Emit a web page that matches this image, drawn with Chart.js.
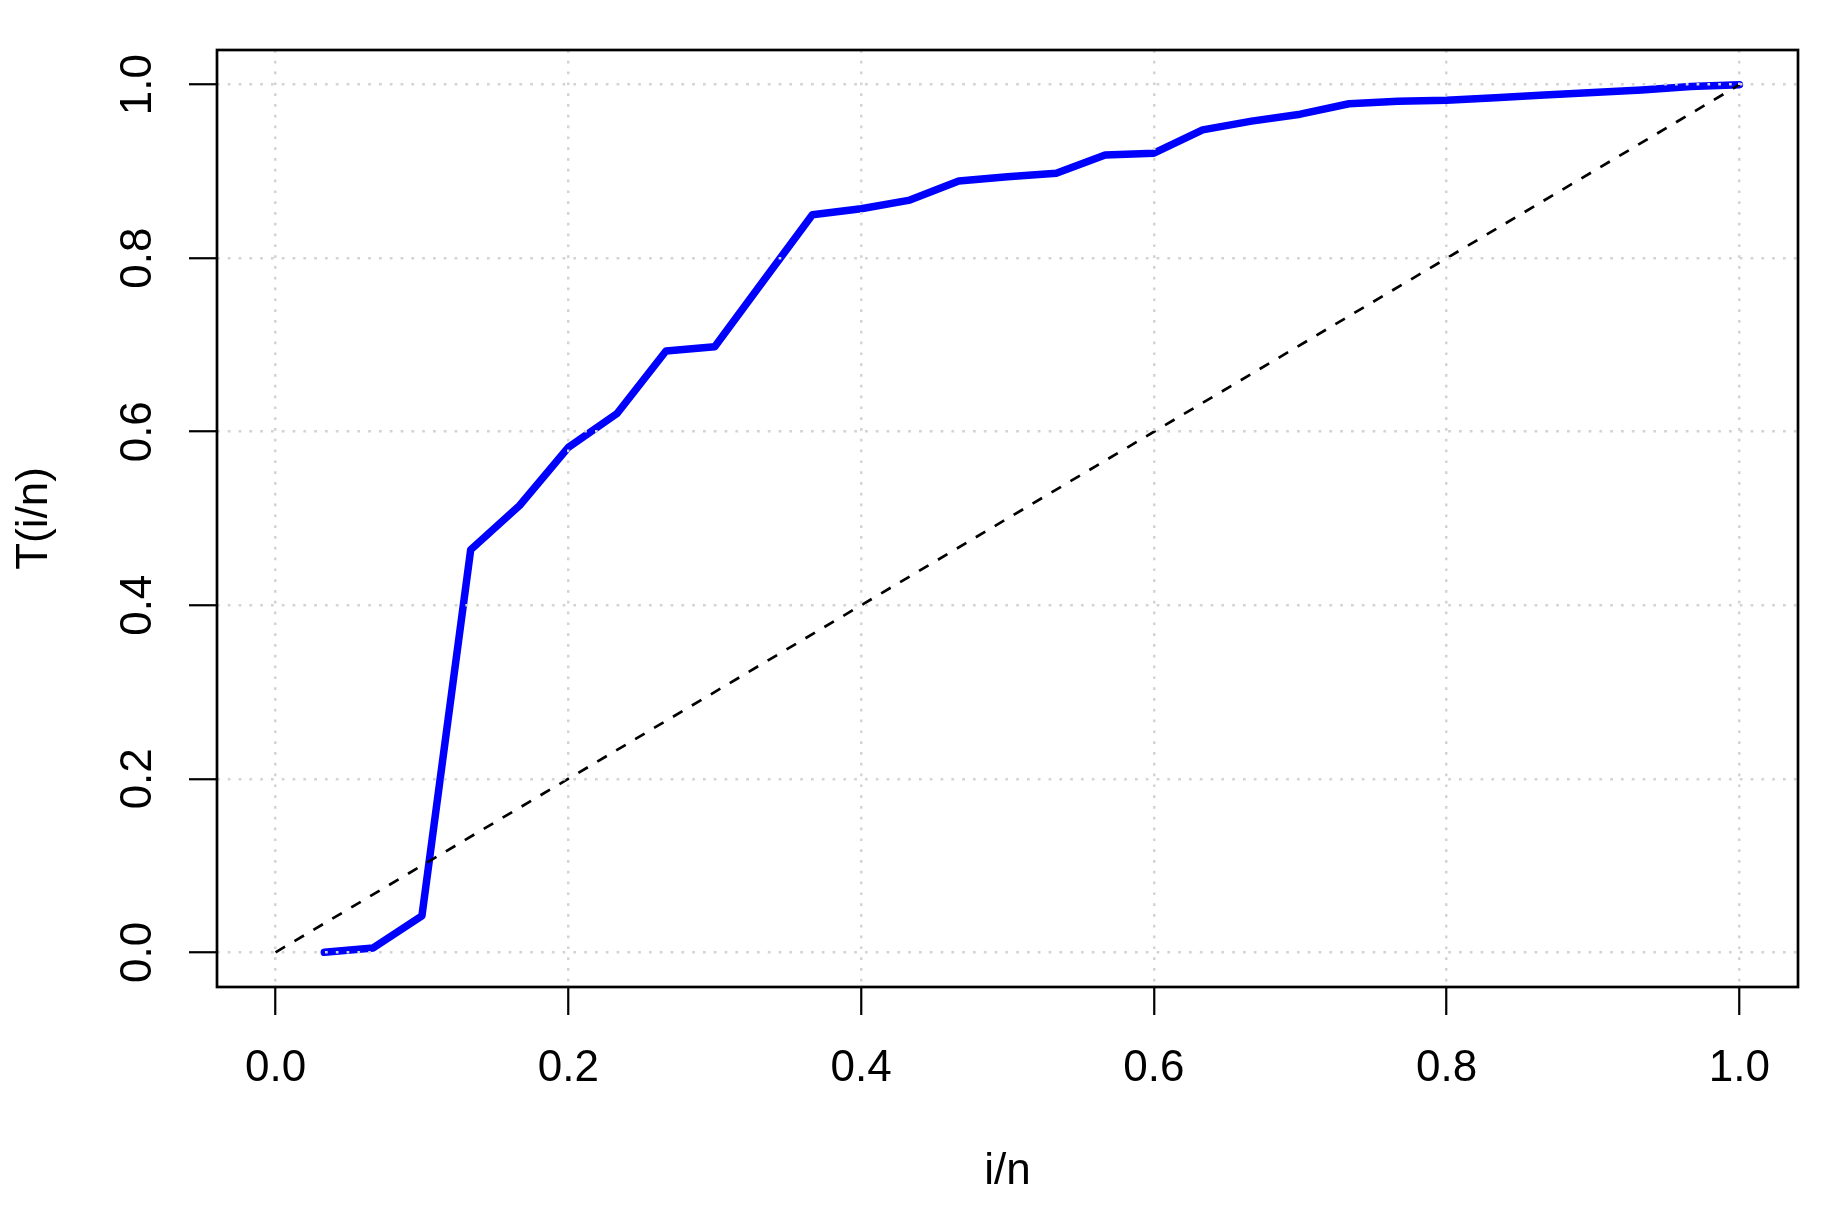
<!DOCTYPE html>
<html>
<head>
<meta charset="utf-8">
<title>T(i/n)</title>
<script src="https://cdn.jsdelivr.net/npm/chart.js@4.4.1/dist/chart.umd.min.js"></script>
<style>
  html, body { margin: 0; padding: 0; background: #ffffff; }
  canvas { display: block; }
</style>
</head>
<body>
<canvas id="chart" width="1826" height="1208"></canvas>
<script>
// i/n for n = 30
const fracX = [
  0.0333, 0.0667, 0.1000, 0.1333, 0.1667, 0.2000, 0.2333, 0.2667, 0.3000, 0.3333,
  0.3667, 0.4000, 0.4333, 0.4667, 0.5000, 0.5333, 0.5667, 0.6000, 0.6333, 0.6667,
  0.7000, 0.7333, 0.7667, 0.8000, 0.8333, 0.8667, 0.9000, 0.9333, 0.9667, 1.0000
];
// T(i/n)
const tValues = [
  0.000, 0.005, 0.042, 0.464, 0.515, 0.582, 0.621, 0.693, 0.698, 0.774,
  0.850, 0.857, 0.867, 0.889, 0.894, 0.898, 0.919, 0.921, 0.948, 0.958,
  0.966, 0.978, 0.981, 0.982, 0.985, 0.988, 0.991, 0.994, 0.998, 1.000
];
// 45 degree reference line
const refX = [0, 1];
const refY = [0, 1];

const xTickVals = [0, 0.2, 0.4, 0.6, 0.8, 1.0];
const xTickLabels = ["0.0", "0.2", "0.4", "0.6", "0.8", "1.0"];
const yTickVals = [0, 0.2, 0.4, 0.6, 0.8, 1.0];
const yTickLabels = ["0.0", "0.2", "0.4", "0.6", "0.8", "1.0"];

Chart.defaults.font.family = "'Liberation Sans', Arial, Helvetica, sans-serif";
Chart.defaults.color = "#000000";

const FONT = { size: 44, lineHeight: 1 };

// R style frame around the plot region
const boxPlugin = {
  id: "box",
  afterDraw(chart) {
    const { ctx, chartArea: a } = chart;
    ctx.save();
    ctx.strokeStyle = "#000000";
    ctx.lineWidth = 2.7;
    ctx.strokeRect(a.left, a.top, a.right - a.left, a.bottom - a.top);
    ctx.restore();
  }
};

const gridOpts = {
  z: 1,
  color: "#d3d3d3",
  lineWidth: 2.5,
  drawTicks: true,
  tickLength: 28,
  tickColor: "#000000",
  tickWidth: 2.2,
  tickBorderDash: []
};

new Chart(document.getElementById("chart"), {
  type: "line",
  data: {
    datasets: [
      {
        label: "reference",
        data: refX.map((x, i) => ({ x: x, y: refY[i] })),
        borderColor: "#000000",
        borderWidth: 2.7,
        borderDash: [11, 11],
        pointRadius: 0,
        fill: false,
        order: 0
      },
      {
        label: "T(i/n)",
        data: fracX.map((x, i) => ({ x: x, y: tValues[i] })),
        borderColor: "#0000ff",
        borderWidth: 7.5,
        borderCapStyle: "round",
        borderJoinStyle: "round",
        pointRadius: 0,
        fill: false,
        tension: 0,
        order: 1
      }
    ]
  },
  options: {
    responsive: false,
    animation: false,
    events: [],
    layout: { padding: { top: 50, right: 28, bottom: 0, left: 0 } },
    plugins: {
      legend: { display: false },
      tooltip: { enabled: false }
    },
    scales: {
      x: {
        type: "linear",
        position: "bottom",
        min: -0.04,
        max: 1.04,
        afterBuildTicks: (axis) => { axis.ticks = xTickVals.map(v => ({ value: v })); },
        afterFit: (axis) => { axis.height = 221; },
        border: { display: false, dash: [2.7, 8.1] },
        grid: gridOpts,
        ticks: {
          autoSkip: false,
          maxRotation: 0,
          minRotation: 0,
          padding: 32,
          font: FONT,
          callback: (v, i) => xTickLabels[i]
        },
        title: {
          display: true,
          text: "i/n",
          font: FONT,
          padding: { top: 0, bottom: 14.5 }
        }
      },
      y: {
        type: "linear",
        position: "left",
        min: -0.04,
        max: 1.04,
        afterBuildTicks: (axis) => { axis.ticks = yTickVals.map(v => ({ value: v })); },
        afterFit: (axis) => { axis.width = 217; },
        border: { display: false, dash: [2.7, 8.1] },
        grid: gridOpts,
        ticks: {
          autoSkip: false,
          minRotation: 90,
          maxRotation: 90,
          crossAlign: "center",
          padding: 19.5,
          font: FONT,
          callback: (v, i) => yTickLabels[i]
        },
        title: {
          display: true,
          text: "T(i/n)",
          font: FONT,
          padding: { top: 12.8, bottom: 0 }
        }
      }
    }
  },
  plugins: [boxPlugin]
});
</script>
</body>
</html>
